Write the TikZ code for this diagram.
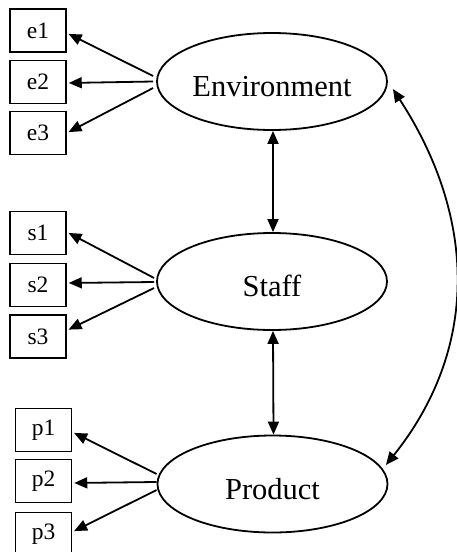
\documentclass[tikz,border=0pt]{standalone}
\usepackage{fontspec}
\setmainfont{Liberation Serif}
\usetikzlibrary{arrows.meta,shapes.geometric}
\tikzset{
  latent/.style={draw, ellipse, line width=1.8pt, minimum width=230pt, minimum height=97pt, inner sep=0pt, text height=30pt, text depth=0pt, font=\fontsize{30.5}{36}\selectfont},
  indic/.style={draw, rectangle, line width=1.5pt, minimum width=56pt, minimum height=43pt, inner sep=0pt, font=\fontsize{23.5}{28}\selectfont},
  arr/.style={line width=1.8pt, -{Triangle[length=13pt,width=11pt]}, shorten >=2pt},
  darr/.style={line width=1.8pt, {Triangle[length=13pt,width=11pt]}-{Triangle[length=13pt,width=11pt]}},
}
\begin{document}
\begin{tikzpicture}[x=1pt,y=1pt]
\useasboundingbox (0,0) rectangle (457,-552);
% latent variables
\node[latent] (env) at (272,-81.5) {Environment};
\node[latent] (staff) at (272,-281.5) {Staff};
\node[latent] (prod) at (272.5,-484) {Product};
% indicators
\node[indic] (e1) at (38,-30.5) {e1};
\node[indic] (e2) at (38,-82) {e2};
\node[indic] (e3) at (38,-133) {e3};
\node[indic] (s1) at (38,-233) {s1};
\node[indic] (s2) at (38,-285) {s2};
\node[indic] (s3) at (38,-336.5) {s3};
\node[indic] (p1) at (43.5,-430) {p1};
\node[indic] (p2) at (43.5,-481) {p2};
\node[indic] (p3) at (43.5,-534) {p3};
% loadings
\draw[arr] ([shift={(-3pt,5.5pt)}]env.west) -- ([yshift=-2.5pt]e1.east);
\draw[arr] ([shift={(-3pt,0pt)}]env.west) -- ([yshift=-1pt]e2.east);
\draw[arr] ([shift={(-3pt,-6.5pt)}]env.west) -- (e3.east);
\draw[arr] ([shift={(-2pt,3.5pt)}]staff.west) -- ([yshift=1pt]s1.east);
\draw[arr] ([shift={(-2pt,-0.5pt)}]staff.west) -- ([yshift=2pt]s2.east);
\draw[arr] ([shift={(-2pt,-6.5pt)}]staff.west) -- ([yshift=6pt]s3.east);
\draw[arr] ([shift={(0pt,10pt)}]prod.west) -- ([yshift=-2pt]p1.east);
\draw[arr] ([shift={(0pt,2pt)}]prod.west) -- ([yshift=-2pt]p2.east);
\draw[arr] ([shift={(0pt,-6pt)}]prod.west) -- ([yshift=2pt]p3.east);
% correlations
\draw[darr] ([xshift=1pt]env.south) -- ([xshift=1pt]staff.north);
\draw[darr] ([xshift=1pt]staff.south) -- ([xshift=1pt]prod.north);
\coordinate (cEnv) at ([shift={(5pt,-7.5pt)}]env.east);
\coordinate (cProd) at ([shift={(-2.5pt,19pt)}]prod.east);
\draw[darr] (cEnv) .. controls (478,-220) and (478,-350) .. (cProd);
\end{tikzpicture}
\end{document}
